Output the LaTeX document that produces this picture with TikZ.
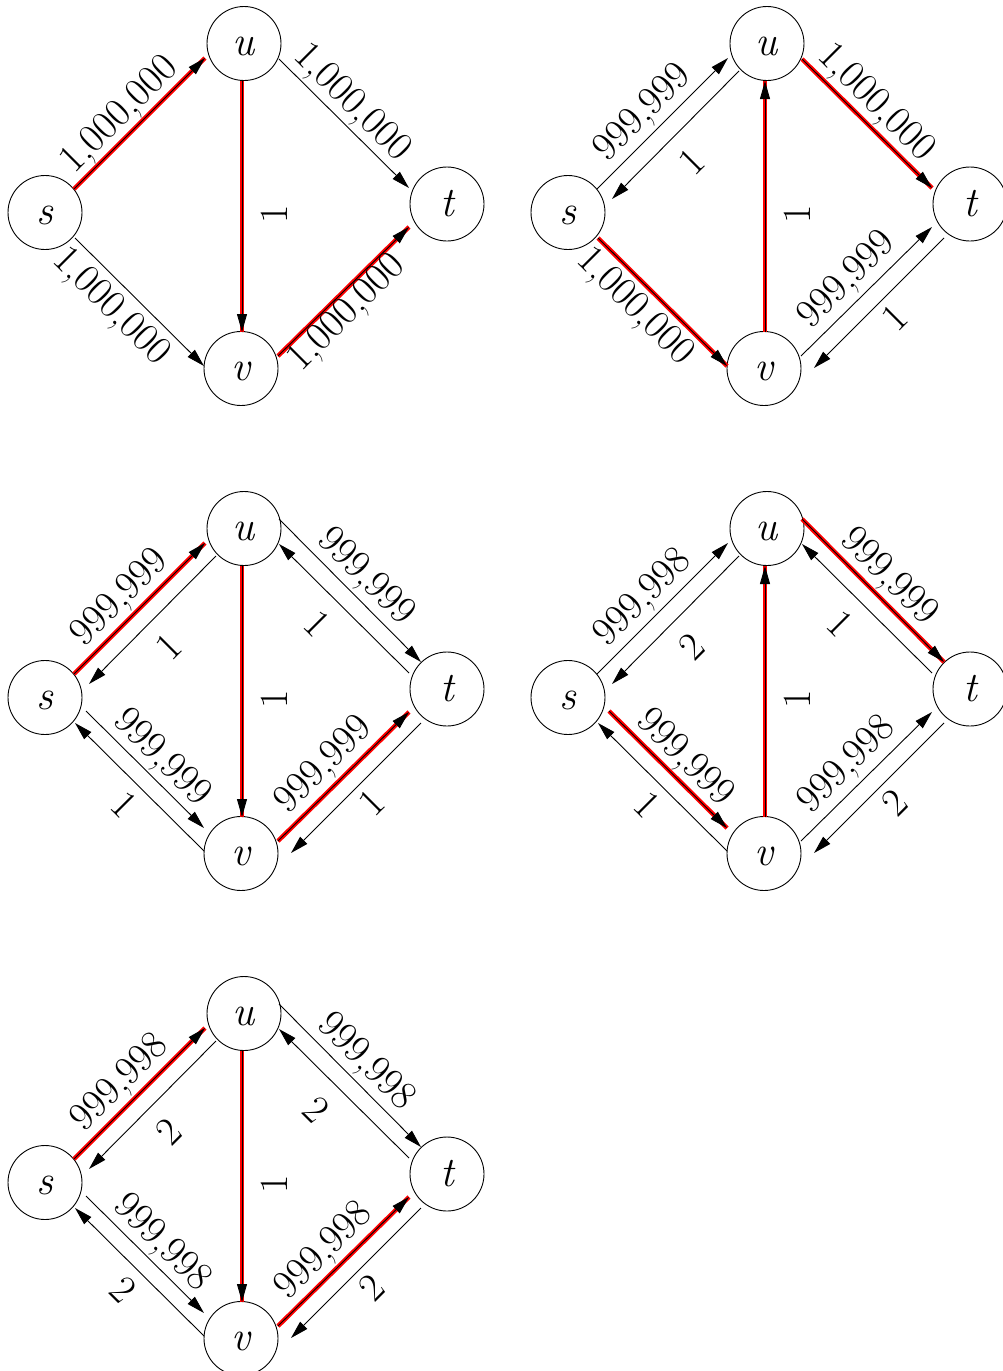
\documentclass[tikz,border=0pt]{standalone}
\usetikzlibrary{arrows.meta,calc}
\newcommand\edge[5]{\draw[#1] ($(#2)+(#3)$) -- ($(#4)+(#5)$);}
\newcommand\lab[5]{\node[lbl,rotate=#4] (#1) at (\gx+#2,-\gy-#3) {#5};}
\newcommand\setg[2]{\def\gx{#1}\def\gy{#2}}
\newcommand\vtxs[1]{%
  \node[vtx] (s#1) at (\gx+45,-\gy-212.5) {s};
  \node[vtx] (u#1) at (\gx+244,-\gy-43.5) {u};
  \node[vtx] (t#1) at (\gx+447,-\gy-204) {t};
  \node[vtx] (v#1) at (\gx+241,-\gy-368.5) {v};}
\begin{document}
\begin{tikzpicture}[x=1pt,y=1pt,
  vtx/.style={circle,draw,line width=0.9pt,minimum size=74pt,inner sep=0pt,
    font=\fontsize{42}{50}\selectfont\itshape,text height=24pt,text depth=0pt},
  arr/.style={line width=0.9pt,-{Triangle[length=18pt,width=10pt]}},
  redarr/.style={arr,preaction={draw=red,line width=4.5pt,-}},
  lbl/.style={font=\fontsize{40}{48}\selectfont,inner sep=0pt}]
\useasboundingbox (0,0) rectangle (1002,-1371);

% ---------- graph 1 ----------
\setg{0}{0}
\vtxs{1}
\edge{redarr}{s1}{29,23.5}{u1}{-39,-14.5}
\edge{redarr}{u1}{-2,-37.5}{v1}{1,36.5}
\edge{arr}{u1}{35,-15.5}{t1}{-38,16}
\edge{arr}{s1}{30,-25.5}{v1}{-37,2.5}
\edge{redarr}{v1}{37,12.5}{t1}{-38,-23}
\lab{a1}{120}{115}{45}{1,000,000}
\lab{b1}{274}{214}{90}{1}
\lab{c1}{352}{103}{-45}{1,000,000}
\lab{d1}{111}{307}{-45}{1,000,000}
\lab{e1}{347}{313}{45}{1,000,000}

% ---------- graph 2 ----------
\setg{523}{0}
\vtxs{2}
\edge{arr}{s2}{29,23.5}{u2}{-39,-14.5}
\edge{arr}{u2}{-28,-27.5}{s2}{44,13.5}
\edge{redarr}{v2}{1,36.5}{u2}{-2,-37.5}
\edge{redarr}{u2}{35,-15.5}{t2}{-38,16}
\edge{redarr}{s2}{30,-25.5}{v2}{-37,2.5}
\edge{arr}{v2}{37,12.5}{t2}{-38,-23}
\edge{arr}{t2}{-26,-34}{v2}{50,0.5}
\lab{a2}{120}{113}{45}{999,999}
\lab{f2}{169}{162}{45}{1}
\lab{b2}{274}{214}{90}{1}
\lab{c2}{353}{103}{-45}{1,000,000}
\lab{d2}{112}{307}{-45}{1,000,000}
\lab{e2}{324}{280}{45}{999,999}
\lab{g2}{372}{318}{45}{1}

% ---------- graph 3 ----------
\setg{0}{485}
\vtxs{3}
\edge{redarr}{s3}{29,23.5}{u3}{-39,-14.5}
\edge{arr}{u3}{-28,-27.5}{s3}{44,13.5}
\edge{arr}{u3}{35,9.5}{t3}{-26,27}
\edge{arr}{t3}{-38,16}{u3}{35,-15.5}
\edge{arr}{s3}{41,-13.5}{v3}{-37,25.5}
\edge{arr}{v3}{-37,2.5}{s3}{30,-25.5}
\edge{redarr}{u3}{-2,-37.5}{v3}{1,36.5}
\edge{redarr}{v3}{37,12.5}{t3}{-38,-23}
\edge{arr}{t3}{-26,-34}{v3}{50,0.5}
\lab{a3}{120}{113}{45}{999,999}
\lab{f3}{169}{162}{45}{1}
\lab{b3}{274}{214}{90}{1}
\lab{c3}{366}{92}{-45}{999,999}
\lab{h3}{317}{139}{-45}{1}
\lab{d3}{162}{273}{-45}{999,999}
\lab{i3}{124}{320}{-45}{1}
\lab{e3}{324}{280}{45}{999,999}
\lab{g3}{372}{318}{45}{1}

% ---------- graph 4 ----------
\setg{523}{485}
\vtxs{4}
\edge{arr}{s4}{29,23.5}{u4}{-39,-14.5}
\edge{arr}{u4}{-28,-27.5}{s4}{44,13.5}
\edge{redarr}{u4}{35,9.5}{t4}{-26,27}
\edge{arr}{t4}{-38,16}{u4}{35,-15.5}
\edge{redarr}{s4}{41,-13.5}{v4}{-37,25.5}
\edge{arr}{v4}{-37,2.5}{s4}{30,-25.5}
\edge{redarr}{v4}{1,36.5}{u4}{-2,-37.5}
\edge{arr}{v4}{37,12.5}{t4}{-38,-23}
\edge{arr}{t4}{-26,-34}{v4}{50,0.5}
\lab{a4}{120}{113}{45}{999,998}
\lab{f4}{169}{162}{45}{2}
\lab{b4}{274}{214}{90}{1}
\lab{c4}{366}{92}{-45}{999,999}
\lab{h4}{317}{139}{-45}{1}
\lab{d4}{162}{273}{-45}{999,999}
\lab{i4}{124}{320}{-45}{1}
\lab{e4}{324}{280}{45}{999,998}
\lab{g4}{372}{318}{45}{2}

% ---------- graph 5 ----------
\setg{0}{970}
\vtxs{5}
\edge{redarr}{s5}{29,23.5}{u5}{-39,-14.5}
\edge{arr}{u5}{-28,-27.5}{s5}{44,13.5}
\edge{arr}{u5}{35,9.5}{t5}{-26,27}
\edge{arr}{t5}{-38,16}{u5}{35,-15.5}
\edge{arr}{s5}{41,-13.5}{v5}{-37,25.5}
\edge{arr}{v5}{-37,2.5}{s5}{30,-25.5}
\edge{redarr}{u5}{-2,-37.5}{v5}{1,36.5}
\edge{redarr}{v5}{37,12.5}{t5}{-38,-23}
\edge{arr}{t5}{-26,-34}{v5}{50,0.5}
\lab{a5}{120}{113}{45}{999,998}
\lab{f5}{169}{162}{45}{2}
\lab{b5}{274}{214}{90}{1}
\lab{c5}{366}{92}{-45}{999,998}
\lab{h5}{316}{140}{-45}{2}
\lab{d5}{162}{273}{-45}{999,998}
\lab{i5}{123}{320}{-45}{2}
\lab{e5}{324}{281}{45}{999,998}
\lab{g5}{372}{318}{45}{2}
\end{tikzpicture}
\end{document}
